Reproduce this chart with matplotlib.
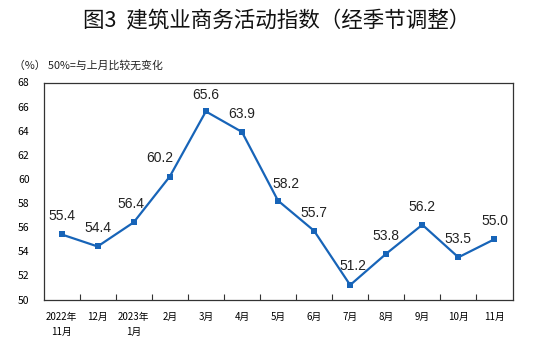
import matplotlib
matplotlib.use("Agg")
from matplotlib import pyplot as plt

plt.rcParams['font.family'] = ['Noto Sans CJK SC', 'DejaVu Sans']

# data
months = ["2022年\n11月", "12月", "2023年\n1月", "2月", "3月", "4月", "5月",
          "6月", "7月", "8月", "9月", "10月", "11月"]
index_values = [55.4, 54.4, 56.4, 60.2, 65.6, 63.9, 58.2, 55.7, 51.2, 53.8, 56.2, 53.5, 55.0]
# label nudges in points (dx, dy)
label_offsets = [(0, 13), (0, 13), (-2, 13), (-7, 13), (0, 12), (0, 13), (6, 12),
                 (0, 13), (2, 14), (0, 13), (0, 13), (0, 13), (0, 13)]

fig = plt.figure(figsize=(5.53, 3.43), dpi=100)
ax = fig.add_axes([43.5 / 553, 1 - 299.5 / 343, 469 / 553, 217 / 343])

x_vals = list(range(len(index_values)))
ax.plot(x_vals, index_values, color="#1764B8", linewidth=1.6,
        marker="s", markersize=4.5, markeredgewidth=0)

for i in x_vals:
    dx, dy = label_offsets[i]
    ax.annotate("%.1f" % index_values[i], (i, index_values[i]), xytext=(dx, dy),
                textcoords="offset points", ha="center", va="center",
                fontsize=10, color="#222222", family=["Liberation Sans", "DejaVu Sans"])

ax.set_xlim(-0.5, len(index_values) - 0.5)
ax.set_ylim(50, 68)
ax.set_yticks(range(50, 69, 2))
ax.tick_params(axis="y", length=0, pad=10, labelsize=7.5)

# boundary ticks between months, labels at month centers
ax.set_xticks([i + 0.5 for i in range(len(index_values) - 1)])
ax.set_xticklabels([])
ax.tick_params(axis="x", which="major", direction="in", length=4, width=0.8, color="#333333")
ax.set_xticks(x_vals, minor=True)
ax.set_xticklabels(months, minor=True, fontsize=7, linespacing=1.6)
ax.tick_params(axis="x", which="minor", length=0, pad=9)
for lbl in ax.get_xticklabels(minor=True):
    lbl.set_verticalalignment("top")

for spine in ax.spines.values():
    spine.set_color("#333333")
    spine.set_linewidth(0.9)

fig.text(0.5, 1 - 20 / 343, "图3  建筑业商务活动指数（经季节调整）", ha="center", va="center",
         fontsize=15.5, fontweight="medium", color="#111111")
fig.text(14 / 553, 1 - 65 / 343, "（%） 50%=与上月比较无变化", ha="left", va="center",
         fontsize=7.8, color="#222222")

plt.savefig("out.png", dpi=100)
